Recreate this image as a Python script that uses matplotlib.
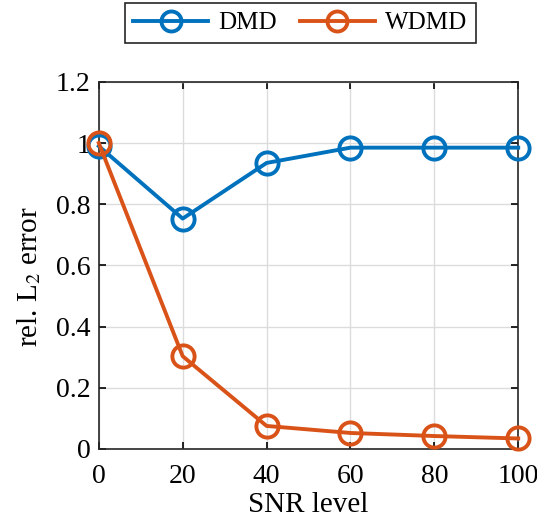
import matplotlib
matplotlib.use("Agg")
import matplotlib.pyplot as plt

snr = [0, 20, 40, 60, 80, 100]
dmd = [0.99, 0.753, 0.935, 0.985, 0.985, 0.985]
wdmd = [1.0, 0.303, 0.075, 0.052, 0.042, 0.034]
xticks = [0, 20, 40, 60, 80, 100]
yticks = [0, 0.2, 0.4, 0.6, 0.8, 1.0, 1.2]
ylabels = ["0", "0.2", "0.4", "0.6", "0.8", "1", "1.2"]

plt.rcParams['font.family'] = ['Liberation Serif', 'DejaVu Serif']
plt.rcParams['mathtext.fontset'] = 'stix'

fig = plt.figure(figsize=(5.37, 5.25), dpi=100)
ax = fig.add_axes([0.184, 0.145, 0.781, 0.699])

kw = dict(lw=2.8, marker='o', markersize=16, markerfacecolor='none', markeredgewidth=2.8, clip_on=False, zorder=3)
ax.plot(snr, dmd, color='#0072BD', label='DMD', **kw)
ax.plot(snr, wdmd, color='#D95319', label='WDMD', **kw)

ax.set_xlim(0, 100)
ax.set_ylim(0, 1.2)
ax.set_xticks(xticks)
ax.set_yticks(yticks)
ax.set_yticklabels(ylabels)
ax.tick_params(direction='in', top=True, right=True, labelsize=20, length=5, width=1.2, pad=6)
ax.tick_params(axis='x', pad=11)
ax.grid(True, color='#dcdcdc', lw=1)
ax.set_axisbelow(True)
for s in ax.spines.values():
    s.set_linewidth(1.2)
    s.set_color('#262626')
ax.set_xlabel('SNR level', fontsize=21, labelpad=2)
ax.set_ylabel(r'rel. L$_2$ error', fontsize=21, labelpad=9)
ax.yaxis.label.set_y(0.47)

leg = ax.legend(loc='center', bbox_to_anchor=(0.48, 1.160), ncol=2, fontsize=18, frameon=True,
                fancybox=False, edgecolor='#262626', framealpha=1, handlelength=3.0,
                columnspacing=0.9, handletextpad=0.4, borderpad=0.35, markerscale=0.9)
leg.get_frame().set_linewidth(1.2)

fig.savefig('out.png', dpi=100)
